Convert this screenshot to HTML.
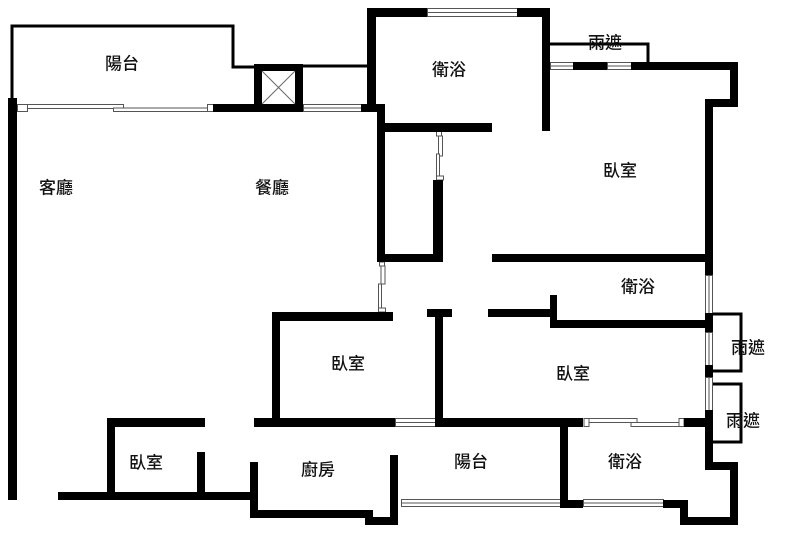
<!DOCTYPE html>
<html><head><meta charset="utf-8"><style>
html,body{margin:0;padding:0;background:#fff;}
svg{display:block;}
text{font-family:"Liberation Sans","Noto Sans CJK TC",sans-serif;font-size:17px;font-weight:500;fill:#111;text-anchor:middle;dominant-baseline:central;}
</style></head><body>
<svg width="800" height="534" viewBox="0 0 800 534" xmlns="http://www.w3.org/2000/svg">
<rect width="800" height="534" fill="#fff"/>
<g fill="none" stroke="#000" stroke-width="3">
<polyline points="12,100 12,26 233,26 233,67 256,67"/>
<line x1="303" y1="66" x2="369" y2="66"/>
<polyline points="550,44 648,44 648,62"/>
<polyline points="713,314 741,314 741,371 713,371"/>
<polyline points="713,384 741,384 741,442 713,442"/>
</g>
<g fill="#fff" stroke="#555" stroke-width="1">
<rect x="17.5" y="104.5" width="10" height="7"/>
<rect x="27.5" y="104.5" width="96" height="4"/>
<rect x="113.5" y="108" width="95" height="3.5"/>
<rect x="207.5" y="104.5" width="6" height="7"/>
<rect x="303.5" y="104.5" width="58" height="7"/><line x1="303" y1="108" x2="361" y2="108"/>
<rect x="427.5" y="8.5" width="90" height="8"/><line x1="427" y1="12.5" x2="517" y2="12.5"/>
<rect x="550.5" y="62.5" width="23" height="7"/><line x1="550" y1="66" x2="573" y2="66"/>
<rect x="607.5" y="62.5" width="24" height="7"/><line x1="607" y1="66" x2="631" y2="66"/>
<rect x="705.5" y="275.5" width="7" height="38"/><line x1="709" y1="275" x2="709" y2="313"/>
<rect x="705.5" y="332.5" width="7" height="33"/><line x1="709" y1="332" x2="709" y2="365"/>
<rect x="705.5" y="377.5" width="7" height="33"/><line x1="709" y1="377" x2="709" y2="410"/>
<rect x="395.5" y="418.5" width="40" height="8"/><line x1="395" y1="422.5" x2="435" y2="422.5"/>
<rect x="401.5" y="499.5" width="159" height="7"/><line x1="401" y1="503" x2="560" y2="503"/>
<rect x="583.5" y="499.5" width="80" height="7"/><line x1="583" y1="503" x2="663" y2="503"/>
<rect x="584" y="418.5" width="5" height="8"/>
<rect x="589" y="418.5" width="48" height="4"/>
<rect x="631" y="422.5" width="48" height="4"/>
<rect x="679" y="418.5" width="5" height="8"/>
<rect x="436.5" y="131" width="5" height="5"/><rect x="438.5" y="136" width="4" height="20"/><rect x="436.5" y="154" width="3" height="22"/><rect x="436.5" y="176" width="7" height="4"/>
<rect x="379.5" y="262" width="5" height="4"/><rect x="381" y="266" width="4" height="18"/><rect x="378.5" y="284" width="3" height="24"/><rect x="378.5" y="308" width="7" height="4"/>
</g>
<g fill="#000">
<rect x="8" y="98" width="9" height="402"/>
<rect x="213" y="104" width="41" height="8"/>
<rect x="254" y="64" width="49" height="48"/>
<rect x="361" y="104" width="24" height="8"/>
<rect x="367" y="8" width="9" height="104"/>
<rect x="377" y="104" width="8" height="158"/>
<rect x="367" y="8" width="60" height="9"/>
<rect x="517" y="8" width="33" height="9"/>
<rect x="542" y="8" width="8" height="123"/>
<rect x="385" y="123" width="107" height="9"/>
<rect x="573" y="62" width="34" height="8"/>
<rect x="631" y="62" width="107" height="8"/>
<rect x="730" y="62" width="8" height="45"/>
<rect x="705" y="99" width="33" height="8"/>
<rect x="705" y="99" width="8" height="176"/>
<rect x="705" y="313" width="8" height="19"/>
<rect x="705" y="365" width="8" height="12"/>
<rect x="705" y="410" width="8" height="60"/>
<rect x="705" y="462" width="33" height="8"/>
<rect x="730" y="462" width="8" height="63"/>
<rect x="680" y="517" width="58" height="8"/>
<rect x="680" y="500" width="8" height="25"/>
<rect x="663" y="500" width="25" height="8"/>
<rect x="433" y="180" width="10" height="82"/>
<rect x="377" y="254" width="66" height="8"/>
<rect x="492" y="254" width="221" height="8"/>
<rect x="550" y="295" width="7" height="33"/>
<rect x="550" y="320" width="163" height="8"/>
<rect x="488" y="309" width="69" height="8"/>
<rect x="427" y="309" width="25" height="8"/>
<rect x="435" y="309" width="8" height="118"/>
<rect x="272" y="312" width="121" height="9"/>
<rect x="272" y="312" width="8" height="110"/>
<rect x="254" y="418" width="141" height="9"/>
<rect x="435" y="418" width="148" height="9"/>
<rect x="684" y="418" width="29" height="9"/>
<rect x="560" y="427" width="8" height="81"/>
<rect x="560" y="500" width="23" height="8"/>
<rect x="107" y="418" width="98" height="9"/>
<rect x="107" y="418" width="8" height="80"/>
<rect x="58" y="492" width="196" height="8"/>
<rect x="197" y="452" width="8" height="48"/>
<rect x="250" y="462" width="8" height="56"/>
<rect x="250" y="510" width="123" height="8"/>
<rect x="365" y="510" width="8" height="15"/>
<rect x="365" y="517" width="33" height="8"/>
<rect x="390" y="455" width="8" height="70"/>
</g>
<rect x="262" y="71" width="33" height="33" fill="#fff"/>
<g stroke="#666" stroke-width="1"><line x1="262" y1="71" x2="295" y2="104"/><line x1="295" y1="71" x2="262" y2="104"/></g>
<text x="122" y="64">陽台</text>
<text x="56" y="188">客廳</text>
<text x="272" y="188">餐廳</text>
<text x="449" y="70">衛浴</text>
<text x="605" y="43">雨遮</text>
<text x="620" y="171">臥室</text>
<text x="638" y="287">衛浴</text>
<text x="748" y="348">雨遮</text>
<text x="348" y="364">臥室</text>
<text x="573" y="374">臥室</text>
<text x="743" y="421">雨遮</text>
<text x="146" y="463">臥室</text>
<text x="318" y="470">廚房</text>
<text x="471" y="462">陽台</text>
<text x="625" y="462">衛浴</text>
</svg>
</body></html>
